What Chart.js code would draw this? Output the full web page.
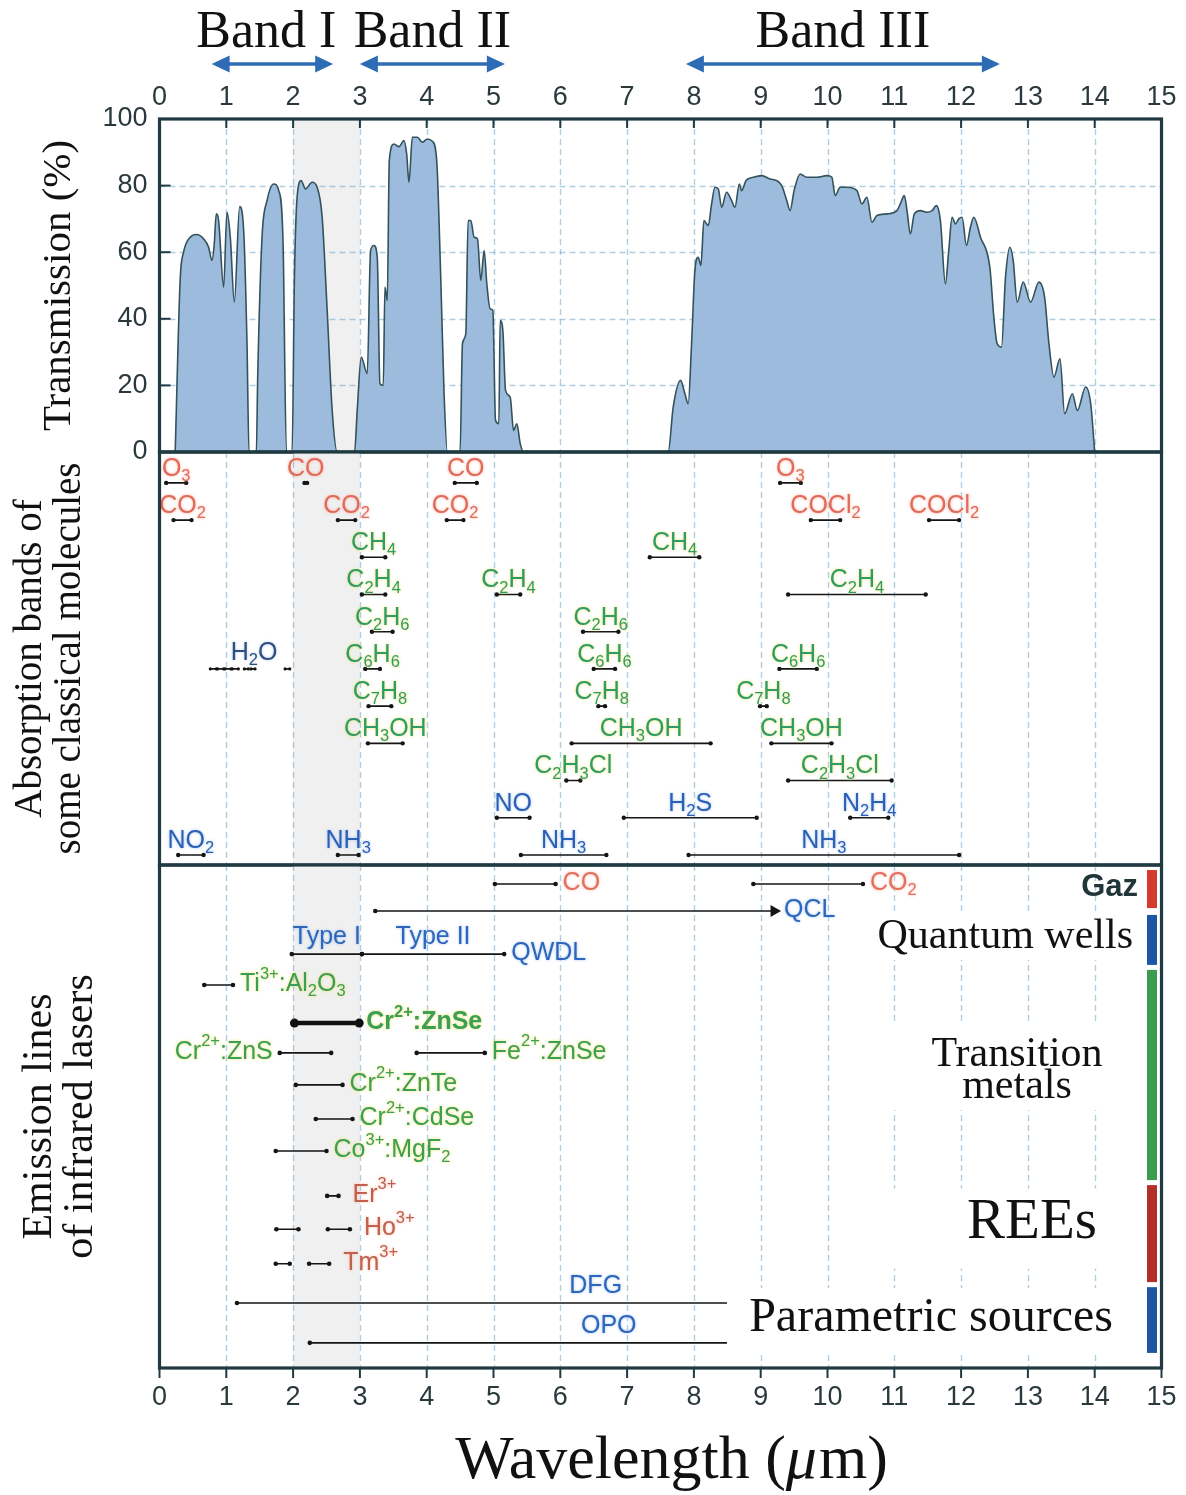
<!DOCTYPE html>
<html>
<head>
<meta charset="utf-8">
<script src="https://cdn.jsdelivr.net/npm/chart.js@4.4.1/dist/chart.umd.min.js"></script>
<style>
  html, body { margin: 0; padding: 0; background: #fff; }
  #wrap { position: relative; width: 1186px; height: 1495px; }
  #wrap canvas { position: absolute; left: 0; top: 0; }
</style>
</head>
<body>
<div id="wrap">
  <canvas id="transChart" width="1186" height="1495"></canvas>
  <canvas id="absChart" width="1186" height="1495"></canvas>
  <canvas id="laserChart" width="1186" height="1495"></canvas>
</div>
<script>
// ---- transmission of the atmosphere (wavelength in µm, %)
const transWl = [
  0.235, 0.31, 0.36, 0.46, 0.56, 0.66, 0.735, 0.785, 0.82, 0.85, 0.885, 0.96, 1.01, 1.06, 1.12, 1.2, 1.26, 1.31, 1.34,
  1.45, 1.47, 1.535, 1.61, 1.71, 1.785, 1.85, 1.9,
  1.985, 2.02, 2.06, 2.12, 2.185, 2.285, 2.36, 2.435, 2.51, 2.585, 2.66,
  2.92, 2.96, 3.02, 3.11, 3.16, 3.21, 3.26, 3.3, 3.35, 3.375, 3.41, 3.44, 3.51, 3.585, 3.66, 3.7, 3.735, 3.785, 3.86,
  3.935, 4.01, 4.085, 4.15, 4.21, 4.26, 4.31,
  4.5, 4.535, 4.585, 4.62, 4.66, 4.71, 4.76, 4.81, 4.86, 4.9, 4.95, 4.99, 5.03, 5.08, 5.1, 5.14, 5.18, 5.25, 5.3, 5.35, 5.4, 5.45,
  7.615, 7.69, 7.8, 7.865, 7.915, 7.965, 8.015, 8.065, 8.105, 8.15, 8.215, 8.265, 8.315, 8.365, 8.415, 8.49, 8.565, 8.615,
  8.68, 8.715, 8.78, 8.89, 9.015, 9.14, 9.24, 9.315, 9.39, 9.44, 9.5, 9.59, 9.69, 9.84, 9.99, 10.065, 10.115, 10.19, 10.29,
  10.44, 10.515, 10.59, 10.665, 10.74, 10.89, 11.04, 11.09, 11.15, 11.19, 11.24, 11.3, 11.39, 11.49, 11.565, 11.63, 11.69,
  11.765, 11.815, 11.865, 11.915, 11.965, 12.015, 12.08, 12.14, 12.19, 12.29, 12.43, 12.49, 12.54, 12.605, 12.665, 12.73,
  12.78, 12.84, 12.93, 13.04, 13.165, 13.25, 13.315, 13.39, 13.48, 13.55, 13.665, 13.74, 13.865, 13.94, 14.0
];
const transVal = [
  0, 52, 60, 64.5, 65.3, 64, 61.5, 57.5, 62.5, 71.5, 69.5, 49.5, 72, 64.5, 45, 73.7, 66.5, 32.5, 0,
  0, 22.5, 64.5, 75.5, 80.5, 78.5, 62.5, 0,
  0, 52.5, 76.5, 81.5, 79, 81, 79.5, 70.5, 42.5, 12.5, 0,
  0, 12.5, 28.5, 23.5, 60.5, 62, 58.5, 20.5, 20, 49.5, 45.5, 87.5, 92.5, 91.7, 93.5, 89.5, 81, 94.5, 94.5,
  93, 94, 93.3, 87.5, 52.5, 17.5, 0,
  0, 32.5, 35.5, 69.5, 69.5, 64.5, 64, 51.5, 60.5, 50.5, 43, 42.5, 9.5, 8.5, 39.5, 36.5, 18.5, 16.5, 6.5, 8.5, 2.5, 0,
  0, 13.5, 21.5, 17.5, 14.5, 32.5, 54.5, 58.5, 56, 69.5, 68, 74.5, 79.5, 79, 73.5, 78, 75.5, 73.5,
  80.5, 78.5, 81.5, 82.5, 83, 82, 81.5, 80, 75.5, 72.5, 78.5, 83.5, 82.5, 82.5, 83, 82.5, 77, 79.5, 79.5,
  78.5, 74.5, 76.5, 69, 71, 71.5, 72.5, 74.5, 77, 72.5, 65.5, 71.5, 72.5, 72, 72.5, 74, 69.5,
  50.5, 60.5, 70.5, 68.5, 70, 70.5, 62, 67.5, 70.5, 64.5, 55.5, 40.5, 32.5, 31.5, 52.5, 61.5,
  57.5, 45, 51, 45, 51, 46.5, 32.5, 22.5, 28, 11.5, 17.5, 12.5, 19.5, 14.5, 0
];

// ---- atmospheric bands (µm)
const bandNames = ['Band I', 'Band II', 'Band III'];
const bandStart = [0.78, 3.0, 7.88];
const bandEnd = [2.6, 5.17, 12.58];
const shadeFrom = 2, shadeTo = 3;

// ---- absorption bands of some molecules (µm), row = line in the middle panel
const absNames = ['O_3', 'CO', 'CO', 'O_3', 'CO_2', 'CO_2', 'CO_2', 'COCl_2', 'COCl_2',
  'CH_4', 'CH_4', 'C_2H_4', 'C_2H_4', 'C_2H_4', 'C_2H_6', 'C_2H_6', 'C_6H_6', 'C_6H_6', 'C_6H_6',
  'C_7H_8', 'C_7H_8', 'C_7H_8', 'CH_3OH', 'CH_3OH', 'CH_3OH', 'C_2H_3Cl', 'C_2H_3Cl',
  'NO', 'H_2S', 'N_2H_4', 'NO_2', 'NH_3', 'NH_3', 'NH_3'];
const absStart = [0.10, 2.17, 4.42, 9.29, 0.21, 2.67, 4.30, 9.75, 11.52,
  3.03, 7.34, 3.03, 5.05, 9.41, 3.18, 6.34, 3.08, 6.50, 9.28,
  3.13, 6.57, 8.99, 3.12, 6.17, 9.16, 6.09, 9.41,
  5.05, 6.95, 10.34, 0.28, 2.67, 5.41, 7.92];
const absEnd = [0.40, 2.21, 4.75, 9.60, 0.48, 2.93, 4.55, 10.19, 11.97,
  3.38, 8.08, 3.38, 5.40, 11.47, 3.49, 6.87, 3.30, 6.82, 9.84,
  3.47, 6.67, 9.09, 3.64, 8.25, 10.06, 6.30, 10.96,
  5.54, 8.94, 10.91, 0.66, 2.98, 6.69, 11.97];
const absRow = [1, 1, 1, 1, 2, 2, 2, 2, 2,
  3, 3, 4, 4, 4, 5, 5, 6, 6, 6,
  7, 7, 7, 8, 8, 8, 9, 9,
  10, 10, 10, 11, 11, 11, 11];
const absGroup = ['red', 'red', 'red', 'red', 'red', 'red', 'red', 'red', 'red',
  'green', 'green', 'green', 'green', 'green', 'green', 'green', 'green', 'green', 'green',
  'green', 'green', 'green', 'green', 'green', 'green', 'green', 'green',
  'blue', 'blue', 'blue', 'blue', 'blue', 'blue', 'blue'];
const h2oStart = [0.76, 0.87, 0.98, 1.09, 1.27, 1.37, 1.88];
const h2oEnd = [0.85, 0.96, 1.07, 1.18, 1.33, 1.43, 1.95];
const h2oRow = 6;

// ---- emission lines of infrared lasers (µm), lane = line in the bottom panel
const laserNames = ['CO', 'CO_2', 'QCL', '', 'QWDL', 'Ti^{3+}:Al_2O_3', 'Cr^{2+}:ZnSe', 'Cr^{2+}:ZnS',
  'Fe^{2+}:ZnSe', 'Cr^{2+}:ZnTe', 'Cr^{2+}:CdSe', 'Co^{3+}:MgF_2', 'Er^{3+}', '', 'Ho^{3+}', '', 'Tm^{3+}', '', ''];
const laserAbove = ['', '', '', 'Type I', 'Type II', '', '', '', '', '', '', '', '', '', '', '', '', 'DFG', 'OPO'];
const laserStart = [5.02, 8.89, 3.23, 1.98, 3.03, 0.67, 2.02, 1.80, 3.85, 2.04, 2.34, 1.74, 2.51, 1.75, 2.52, 1.74, 2.24, 1.16, 2.25];
const laserEnd = [5.93, 10.53, 9.20, 3.03, 5.16, 1.10, 2.99, 2.57, 4.87, 2.74, 2.89, 2.50, 2.68, 2.08, 2.85, 1.95, 2.54, 11.9, 11.2];
const laserLane = [0.53, 0.53, 1.28, 2.48, 2.48, 3.34, 4.40, 5.23, 5.23, 6.12, 7.07, 7.96, 9.21, 10.14, 10.14, 11.10, 11.10, 12.19, 13.30];
const laserGroup = ['gas', 'gas', 'qw', 'qw', 'qw', 'tm', 'tm', 'tm', 'tm', 'tm', 'tm', 'tm', 'ree', 'ree', 'ree', 'ree', 'ree', 'par', 'par'];

// ---- laser families (right hand side bar, lanes)
const groupNames = ['Gaz', 'Quantum wells', 'Transition metals', 'REEs', 'Parametric sources'];
const groupFrom = [0.14, 1.39, 2.92, 8.91, 11.75];
const groupTo = [1.20, 2.78, 8.77, 11.61, 13.58];

// ---- styles
const SANS = '"Liberation Sans", Arial, sans-serif';
const SERIF = '"Liberation Serif", "DejaVu Serif", serif';
const frameColor = '#1f3a41';
const tickColor = '#2b393d';
const gridColor = 'rgba(110,165,200,0.55)';
const absColors = {
  red: ['#e06b5b', 'rgba(255,170,150,0.9)'],
  green: ['#2f9b6c', 'rgba(235,225,70,0.9)'],
  blue: ['#2c60b6', 'rgba(140,180,235,0.8)'],
  navy: ['#2e4f80', 'rgba(140,170,220,0.6)']
};
const laserColors = {
  gas: ['#e2705e', 'rgba(255,175,155,0.9)'],
  qw: ['#2d66ba', 'rgba(140,180,235,0.8)'],
  tm: ['#3c9f57', 'rgba(235,225,70,0.9)'],
  ree: ['#c0604e', 'rgba(255,175,155,0.8)'],
  par: ['#2d66ba', 'rgba(140,180,235,0.8)']
};
const groupStyle = [
  { color: '#d43b30', font: '600 31px ' + SANS, ink: '#22363a', align: 'right', dx: -9, dy: -2, lines: ['Gaz'] },
  { color: '#1f55a2', font: '42px ' + SERIF, ink: '#111', align: 'right', dx: -14, dy: -3, lines: ['Quantum wells'], box: [-274, -25, 272, 45] },
  { color: '#3c9c4d', font: '42px ' + SERIF, ink: '#111', align: 'center', dx: -130, dy: -20, lh: 32, lines: ['Transition', 'metals'], box: [-267, -52, 265, 87] },
  { color: '#b22f2a', font: '57px ' + SERIF, ink: '#111', align: 'center', dx: -115, dy: -11, lines: ['REEs'], box: [-264, -45, 262, 80] },
  { color: '#1f55a2', font: '48px ' + SERIF, ink: '#111', align: 'right', dx: -34, dy: -2, lines: ['Parametric sources'], box: [-420, -32, 418, 64] }
];

Chart.defaults.font.family = SANS;
Chart.defaults.color = tickColor;

// text with _sub and ^{sup}
function parseRich(s) {
  const out = [];
  let buf = '';
  for (let i = 0; i < s.length; i++) {
    const c = s[i];
    if (c === '_' || c === '^') {
      if (buf) { out.push({ k: 'n', t: buf }); buf = ''; }
      let t;
      if (s[i + 1] === '{') { const j = s.indexOf('}', i); t = s.slice(i + 2, j); i = j; }
      else { t = s[i + 1]; i++; }
      out.push({ k: c === '_' ? 'sub' : 'sup', t });
    } else buf += c;
  }
  if (buf) out.push({ k: 'n', t: buf });
  return out;
}

function drawRich(ctx, str, x, y, o) {
  const parts = parseRich(str);
  const weight = o.bold ? 'bold ' : '';
  let w = 0;
  parts.forEach(p => {
    p.size = p.k === 'n' ? o.size : o.size * 0.66;
    ctx.font = weight + p.size + 'px ' + SANS;
    p.w = ctx.measureText(p.t).width;
    w += p.w;
  });
  let cx = o.align === 'center' ? x - w / 2 : o.align === 'right' ? x - w : x;
  ctx.save();
  ctx.textBaseline = 'middle';
  ctx.textAlign = 'left';
  ctx.fillStyle = o.color;
  if (o.halo) { ctx.shadowColor = o.halo; ctx.shadowBlur = 3; }
  parts.forEach(p => {
    ctx.font = weight + p.size + 'px ' + SANS;
    const dy = p.k === 'sub' ? o.size * 0.3 : p.k === 'sup' ? -o.size * 0.4 : 0;
    ctx.fillText(p.t, cx, y + dy);
    cx += p.w;
  });
  ctx.restore();
}

function segmentPoints(starts, ends, lanes, arrowAt) {
  const pts = [];
  starts.forEach((s, i) => {
    const lane = Array.isArray(lanes) ? lanes[i] : lanes;
    pts.push({ x: s, y: lane }, { x: ends[i], y: lane, arrow: i === arrowAt }, { x: ends[i], y: null });
  });
  return pts;
}

// keep label overflow from shrinking the plot area
const fixX = h => s => { s.height = h; s.paddingLeft = 0; s.paddingRight = 0; };
const fixY = s => { s.width = 159.5; s.paddingTop = 0; s.paddingBottom = 0; };

// shading, dashed grid, frame and inner/outer tick marks of one panel
function panelDecor(opt) {
  return {
    id: 'panelDecor',
    beforeDatasetsDraw(chart) {
      const { ctx, chartArea: a, scales: { x, y } } = chart;
      ctx.save();
      const s0 = x.getPixelForValue(shadeFrom), s1 = x.getPixelForValue(shadeTo);
      ctx.fillStyle = '#f0f0f0';
      ctx.fillRect(s0, a.top, s1 - s0, a.bottom - a.top);
      ctx.strokeStyle = gridColor;
      ctx.lineWidth = 1.4;
      ctx.setLineDash([6, 4]);
      for (let v = Math.ceil(x.min) + 1; v < x.max; v++) {
        const px = Math.round(x.getPixelForValue(v)) + 0.5;
        ctx.beginPath(); ctx.moveTo(px, a.top); ctx.lineTo(px, a.bottom); ctx.stroke();
      }
      if (opt.hGrid) {
        y.ticks.forEach(t => {
          if (t.value <= y.min || t.value >= y.max) return;
          const py = Math.round(y.getPixelForValue(t.value)) + 0.5;
          ctx.beginPath(); ctx.moveTo(a.left, py); ctx.lineTo(a.right, py); ctx.stroke();
        });
      }
      ctx.restore();
    },
    afterDraw(chart) {
      const { ctx, chartArea: a, scales: { x, y } } = chart;
      ctx.save();
      ctx.strokeStyle = frameColor;
      ctx.lineWidth = 2;
      if (opt.topTicks) {
        for (let v = Math.ceil(x.min) + 1; v < x.max; v++) {
          const px = x.getPixelForValue(v);
          ctx.beginPath(); ctx.moveTo(px, a.top); ctx.lineTo(px, a.top + 9); ctx.stroke();
        }
      }
      if (opt.leftTicks) {
        y.ticks.forEach(t => {
          if (t.value <= y.min || t.value >= y.max) return;
          const py = y.getPixelForValue(t.value);
          ctx.beginPath(); ctx.moveTo(a.left, py); ctx.lineTo(a.left + 11, py); ctx.stroke();
        });
      }
      if (opt.bottomTicks) {
        for (let v = Math.ceil(x.min); v <= x.max; v++) {
          const px = x.getPixelForValue(v);
          ctx.beginPath(); ctx.moveTo(px, a.bottom); ctx.lineTo(px, a.bottom + 10); ctx.stroke();
        }
      }
      ctx.lineWidth = 3.2;
      ctx.strokeRect(a.left, a.top, a.right - a.left, a.bottom - a.top);
      ctx.restore();
    }
  };
}

function arrowHead(ctx, x, y, dir) {
  ctx.beginPath();
  ctx.moveTo(x, y);
  ctx.lineTo(x - dir * 18, y - 8.5);
  ctx.lineTo(x - dir * 18, y + 8.5);
  ctx.closePath();
  ctx.fill();
}

const bandPlugin = {
  id: 'bands',
  afterDraw(chart) {
    const { ctx, scales: { x } } = chart;
    ctx.save();
    bandNames.forEach((name, i) => {
      const x0 = x.getPixelForValue(bandStart[i]), x1 = x.getPixelForValue(bandEnd[i]);
      ctx.strokeStyle = '#2d6cb5';
      ctx.fillStyle = '#2d6cb5';
      ctx.lineWidth = 3.5;
      ctx.beginPath(); ctx.moveTo(x0 + 10, 64); ctx.lineTo(x1 - 10, 64); ctx.stroke();
      arrowHead(ctx, x0, 64, -1);
      arrowHead(ctx, x1, 64, 1);
      ctx.fillStyle = '#111';
      ctx.font = '52px ' + SERIF;
      ctx.textAlign = 'center';
      ctx.textBaseline = 'middle';
      ctx.fillText(name, (x0 + x1) / 2 - (i === 0 ? 6 : 0), 33);
    });
    ctx.restore();
  }
};

const baseOptions = (padTop, padBottom) => ({
  responsive: false,
  animation: false,
  devicePixelRatio: 1,
  layout: { padding: { left: 0, right: 24.5, top: padTop, bottom: padBottom } },
  plugins: { legend: { display: false }, tooltip: { enabled: false } },
  events: []
});

// ---------- top panel: transmission
const transOptions = baseOptions(0, 1495 - 452);
transOptions.scales = {
  x: {
    type: 'linear', position: 'top', min: 0, max: 15,
    ticks: { stepSize: 1, autoSkip: false, maxRotation: 0, padding: 5, font: { size: 27 }, color: tickColor },
    grid: { display: false, drawTicks: false }, border: { display: false },
    afterFit: fixX(119)
  },
  y: {
    min: 0, max: 100,
    ticks: { stepSize: 20, padding: 12, font: { size: 27 }, color: tickColor },
    grid: { display: false, drawTicks: false }, border: { display: false },
    title: { display: true, text: 'Transmission (%)', color: '#111', font: { family: SERIF, size: 41, lineHeight: 1.2 }, padding: { top: 35, bottom: 0 } },
    afterFit: fixY
  }
};
new Chart(document.getElementById('transChart'), {
  type: 'line',
  data: {
    datasets: [{
      data: transWl.map((w, i) => ({ x: w, y: transVal[i] })),
      borderColor: '#33525b',
      borderWidth: 1.6,
      backgroundColor: '#9dbcdd',
      fill: 'origin',
      pointRadius: 0,
      cubicInterpolationMode: 'monotone'
    }]
  },
  options: transOptions,
  plugins: [panelDecor({ hGrid: true, topTicks: true, leftTicks: true }), bandPlugin]
});

// ---------- middle panel: absorption bands
const absLabels = {
  id: 'absLabels',
  afterDatasetsDraw(chart) {
    const { ctx, scales: { x, y } } = chart;
    absNames.forEach((n, i) => {
      const c = absColors[absGroup[i]];
      drawRich(ctx, n, x.getPixelForValue((absStart[i] + absEnd[i]) / 2), y.getPixelForValue(absRow[i]) - 14,
        { size: 25, color: c[0], halo: c[1], align: 'center' });
    });
    const h2oMid = (Math.min(...h2oStart) + Math.max(...h2oEnd)) / 2;
    drawRich(ctx, 'H_2O', x.getPixelForValue(h2oMid) + 4, y.getPixelForValue(h2oRow) - 16,
      { size: 25, color: absColors.navy[0], halo: absColors.navy[1], align: 'center' });
  }
};
const absOptions = baseOptions(452, 1495 - 865);
absOptions.scales = {
  x: {
    type: 'linear', min: 0, max: 15,
    ticks: { display: false }, grid: { display: false, drawTicks: false }, border: { display: false },
    afterFit: fixX(0)
  },
  y: {
    min: 0.17, max: 11.27, reverse: true,
    ticks: { display: false }, grid: { display: false, drawTicks: false }, border: { display: false },
    title: { display: true, text: ['Absorption bands of', 'some classical molecules'], color: '#111', font: { family: SERIF, size: 39, lineHeight: 0.98 }, padding: { top: 12, bottom: 0 } },
    afterFit: fixY
  }
};
new Chart(document.getElementById('absChart'), {
  type: 'line',
  data: {
    datasets: [
      {
        data: segmentPoints(absStart, absEnd, absRow, -1),
        borderColor: '#151515', borderWidth: 1.6, spanGaps: false,
        pointRadius: 2.2, pointBackgroundColor: '#151515', pointBorderWidth: 0
      },
      {
        data: segmentPoints(h2oStart, h2oEnd, h2oRow, -1),
        borderColor: '#151515', borderWidth: 1.8, spanGaps: false,
        pointRadius: 1.6, pointBackgroundColor: '#151515', pointBorderWidth: 0
      }
    ]
  },
  options: absOptions,
  plugins: [panelDecor({}), absLabels]
});

// ---------- bottom panel: laser emission lines
const thickIdx = laserNames.indexOf('Cr^{2+}:ZnSe');
const arrowIdx = laserNames.indexOf('QCL');
const thinIdx = laserNames.map((n, i) => i).filter(i => i !== thickIdx);

const laserLabels = {
  id: 'laserLabels',
  afterDatasetsDraw(chart) {
    const { ctx, chartArea: a, scales: { x, y } } = chart;
    const barX = a.right - 14.5;

    // white boxes behind the family captions
    groupNames.forEach((g, i) => {
      const st = groupStyle[i];
      const mid = (y.getPixelForValue(groupFrom[i]) + y.getPixelForValue(groupTo[i])) / 2;
      if (st.box) {
        ctx.fillStyle = '#fff';
        ctx.fillRect(barX + st.box[0], mid + st.box[1], st.box[2], st.box[3]);
      }
    });

    laserNames.forEach((n, i) => {
      const c = laserColors[laserGroup[i]];
      const py = y.getPixelForValue(laserLane[i]);
      if (n) {
        const left = n === 'Cr^{2+}:ZnS';
        const gap = laserGroup[i] === 'ree' ? 14 : (i === arrowIdx ? 10 : 7);
        const px = left ? x.getPixelForValue(laserStart[i]) - gap : x.getPixelForValue(laserEnd[i]) + gap;
        drawRich(ctx, n, px, py - 1, { size: 25, color: c[0], halo: c[1], align: left ? 'right' : 'left', bold: i === thickIdx });
      }
      if (laserAbove[i]) {
        const end = Math.min(laserEnd[i], x.max);
        drawRich(ctx, laserAbove[i], x.getPixelForValue((laserStart[i] + end) / 2), py - 17,
          { size: 25, color: c[0], halo: c[1], align: 'center' });
      }
    });
  },
  afterDraw(chart) {
    const { ctx, chartArea: a, scales: { x, y } } = chart;
    const barX = a.right - 14.5;
    ctx.save();
    groupNames.forEach((g, i) => {
      const st = groupStyle[i];
      const y0 = y.getPixelForValue(groupFrom[i]), y1 = y.getPixelForValue(groupTo[i]);
      ctx.fillStyle = st.color;
      ctx.fillRect(barX, y0, 10, y1 - y0);
      const mid = (y0 + y1) / 2;
      ctx.fillStyle = st.ink;
      ctx.font = st.font;
      ctx.textAlign = st.align;
      ctx.textBaseline = 'middle';
      st.lines.forEach((line, k) => ctx.fillText(line, barX + st.dx, mid + st.dy + k * (st.lh || 0)));
    });

    // x axis caption
    const cx = (a.left + a.right) / 2 + 10, cy = 1462;
    const p1 = 'Wavelength (', p2 = '\u03bc', p3 = 'm)';
    ctx.fillStyle = '#111';
    ctx.textBaseline = 'middle';
    ctx.textAlign = 'left';
    ctx.font = '62px ' + SERIF;
    const w1 = ctx.measureText(p1).width, w3 = ctx.measureText(p3).width;
    ctx.font = 'italic 62px ' + SERIF;
    const w2 = ctx.measureText(p2).width;
    const sx = cx - (w1 + w2 + w3) / 2;
    ctx.font = '62px ' + SERIF;
    ctx.fillText(p1, sx, cy);
    ctx.font = 'italic 62px ' + SERIF;
    ctx.fillText(p2, sx + w1, cy);
    ctx.font = '62px ' + SERIF;
    ctx.fillText(p3, sx + w1 + w2 + 2, cy);
    ctx.restore();
  }
};

const laserOptions = baseOptions(865, 0);
laserOptions.scales = {
  x: {
    type: 'linear', position: 'bottom', min: 0, max: 15,
    ticks: { stepSize: 1, autoSkip: false, maxRotation: 0, padding: 13, font: { size: 27 }, color: tickColor },
    grid: { display: false, drawTicks: false }, border: { display: false },
    afterFit: fixX(127)
  },
  y: {
    min: 0, max: 14, reverse: true,
    ticks: { display: false }, grid: { display: false, drawTicks: false }, border: { display: false },
    title: { display: true, text: ['Emission lines', 'of infrared lasers'], color: '#111', font: { family: SERIF, size: 42, lineHeight: 0.96 }, padding: { top: 20, bottom: 0 } },
    afterFit: fixY
  }
};
new Chart(document.getElementById('laserChart'), {
  type: 'line',
  data: {
    datasets: [
      {
        data: segmentPoints(thinIdx.map(i => laserStart[i]), thinIdx.map(i => laserEnd[i]), thinIdx.map(i => laserLane[i]), thinIdx.indexOf(arrowIdx)),
        borderColor: '#151515', borderWidth: 1.6, spanGaps: false,
        pointBackgroundColor: '#151515', pointBorderWidth: 0,
        pointStyle: c => (c.raw && c.raw.arrow ? 'triangle' : 'circle'),
        pointRadius: c => (c.raw && c.raw.arrow ? 7 : 2.3),
        pointRotation: c => (c.raw && c.raw.arrow ? 90 : 0)
      },
      {
        data: segmentPoints([laserStart[thickIdx]], [laserEnd[thickIdx]], [laserLane[thickIdx]], -1),
        borderColor: '#111', borderWidth: 4.5, spanGaps: false,
        pointRadius: 4.5, pointBackgroundColor: '#111', pointBorderWidth: 0
      }
    ]
  },
  options: laserOptions,
  plugins: [panelDecor({ bottomTicks: true }), laserLabels]
});
</script>
</body>
</html>
